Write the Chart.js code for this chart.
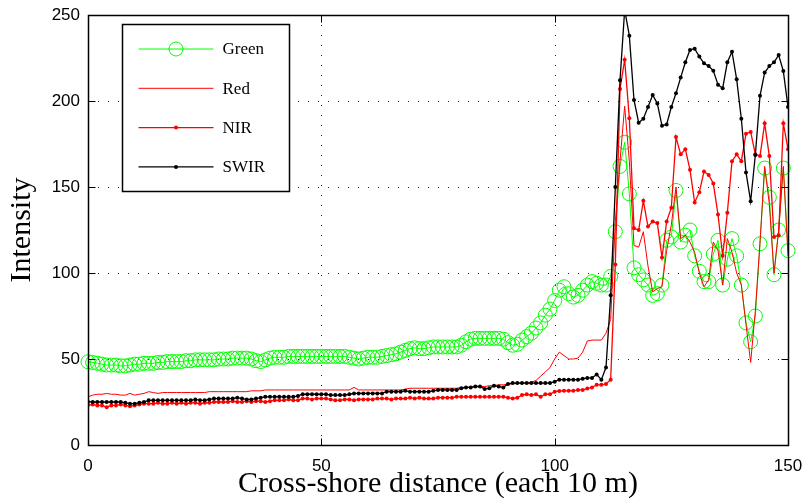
<!DOCTYPE html>
<html lang="en">
<head>
<meta charset="UTF-8">
<title>Intensity</title>
<style>
  html, body { margin: 0; padding: 0; background: #fff; }
</style>
</head>
<body>
<canvas id="myChart" width="806" height="499"></canvas>

<script src="https://cdn.jsdelivr.net/npm/chart.js"></script>
<script>
// values, one per 10 m step (0..150)
const green = [
  48.4, 48, 47.5, 47, 46.5, 46.5, 46.5, 46, 46, 46.5,
  47, 47, 47.5, 47.5, 47.5, 48, 48, 48.5, 48.5, 48.5,
  48.5, 49, 49, 49.5, 49.5, 49.5, 49.5, 49.5, 50, 50,
  50, 50.5, 50.5, 50.5, 50.5, 50, 49, 48.5, 49.5, 50.5,
  51, 51, 51, 51.5, 51.5, 51.5, 51.5, 51.5, 51.5, 51.5,
  51.5, 51.5, 51.5, 51.5, 51.5, 51.5, 51, 50.5, 50, 50.5,
  51, 51, 51, 51.5, 52, 52.5, 53, 54, 55, 56,
  56.5, 56, 56, 56.5, 57, 57, 57, 57, 57, 57,
  58, 60, 61.5, 62, 62, 62, 62, 62, 62, 61.5,
  59.5, 58, 58.5, 61, 63, 65, 68, 71, 75.5, 79,
  84, 90, 92, 88, 86, 87, 90, 93, 95, 94,
  93, 93, 98, 124, 162, 176, 146, 103, 99, 96,
  93, 87, 88, 93, 119, 121, 148, 118, 122, 125,
  110, 101, 95, 95, 111, 119, 93, 108, 120, 110,
  93, 71, 60, 75, 117, 161, 144, 99, 125, 161,
  113
];
const red = [
  28, 29, 29.5, 29.5, 30, 29.5, 29.5, 29, 29, 30,
  29, 29.5, 30, 31, 30.5, 30, 30.5, 30.5, 30.5, 30.5,
  30.5, 30.5, 30.5, 30.5, 30.5, 30.5, 31, 31, 31, 31,
  31, 31, 31, 31, 31, 31.5, 31.5, 31.5, 32, 32,
  32, 32, 32, 32, 32, 32, 32, 32, 32, 32,
  32, 32, 32, 32, 32, 32, 32, 33.5, 32, 32,
  32, 32, 32, 32, 32, 32, 32, 32, 32.5, 33,
  33, 33, 33, 33, 33, 33, 33, 33, 33, 33,
  33.5, 33.5, 33.5, 34, 34, 34, 34.5, 34.5, 35, 35,
  35.5, 35.5, 36, 36, 36, 36.5, 37.5, 40, 42.5, 45,
  50, 54, 52, 50, 50, 50.5, 54, 60.5, 61, 61,
  61, 65, 73, 130, 165, 197, 165, 116, 115, 124,
  104, 89, 91, 92, 113, 128, 150, 120, 122, 118,
  112, 100, 92, 96, 118, 113, 93, 120, 112, 100,
  93, 70, 48, 78, 118, 162, 140, 100, 125, 162,
  110
];
const nir = [
  23.3, 23.5, 23, 23, 22, 23, 23, 23.5, 23, 22.5,
  23, 23.5, 24, 24, 24, 24.5, 24, 24, 24.5, 24,
  24.5, 24, 24.5, 24.5, 24, 24.5, 24.5, 25, 25, 25,
  25, 25.5, 25, 25, 25.5, 25, 25.5, 25.5, 25, 25.5,
  26, 26, 26, 26.5, 26, 26, 27, 27, 26.5, 27,
  27, 27, 26.5, 26, 26, 26.5, 26.5, 26, 26.5, 26.5,
  26.5, 26.5, 27, 27, 27, 26.5, 27, 27, 27, 27.5,
  27, 27.5, 27, 27, 27, 27.5, 27.5, 27.5, 27.5, 28,
  28, 28, 28, 28, 28, 28, 28, 28, 28, 28,
  27.5, 27, 27.5, 29, 29.5, 29, 29.5, 28, 29.5, 29.5,
  31, 31.4, 31.5, 31.5, 31.5, 32, 32, 32.8, 33.5, 35,
  35, 35.5, 38, 105, 207, 224, 190, 126, 125, 142,
  127, 130, 129, 109, 130, 138, 179, 169, 172, 160,
  141, 147, 159, 157, 152, 134, 110, 135, 165, 169,
  165, 181, 182, 169, 168, 187, 168, 121, 122, 187,
  172
];
const swir = [
  25.2, 25, 25, 25, 25, 25, 25, 25, 24.5, 24,
  24, 24.5, 25, 26, 26, 26, 26, 26, 26, 26,
  26, 26, 26, 26.5, 26, 26, 26.5, 27, 27, 27,
  27, 27, 27.5, 27, 26.5, 26.5, 27, 27.5, 28, 28,
  28, 28, 28, 28, 28, 28.5, 29.5, 29.5, 29.5, 29.5,
  29.5, 29.5, 29, 29, 29, 29, 29.5, 30, 30, 30,
  30, 30, 30, 30, 31, 31, 31, 31, 31.5, 31,
  31, 31, 31, 31, 31.5, 32, 32, 32, 32, 32,
  33, 33.5, 33.5, 34, 34, 32.5, 33, 34.5, 34, 33.5,
  35.5, 36, 36, 36, 36, 36, 36, 36, 36, 36,
  36.8, 38, 38, 38, 38, 38, 38.5, 39, 39, 41,
  38, 45, 87, 150, 212, 253, 238, 200.6, 187.4, 189.7,
  196.5, 203.5, 198.5, 185.6, 186.4, 196.5, 204.5, 213.6, 222.5, 229.7,
  230.4, 225.8, 221.9, 220.3, 217.6, 209.5, 207.4, 222.5, 228.7, 212.6,
  189.7, 158.5, 141.7, 168.6, 203, 216.5, 220.3, 222.5, 226.7, 217.4,
  196.5
];
const seriesNames = ['Green', 'Red', 'NIR', 'SWIR'];
const xTicks = [0, 50, 100, 150];
const yTicks = [0, 50, 100, 150, 200, 250];

// x position of each sample is just its index (distance step)
const distance = green.map((v, i) => i);

const serif = 'Liberation Serif, DejaVu Serif, serif';
const sans = 'Liberation Sans, Arial, sans-serif';

// matlab-like frame: dotted grid, box, inward ticks and the boxed legend
const frame = {
    id: 'frame',
    beforeDatasetsDraw(chart) {
        const {ctx, chartArea: a, scales: {x, y}} = chart;
        ctx.save();
        ctx.strokeStyle = '#222';
        ctx.lineWidth = 1;
        ctx.setLineDash([1, 9]);
        ctx.beginPath();
        xTicks.forEach(v => {
            const px = Math.round(x.getPixelForValue(v)) + 0.5;
            ctx.moveTo(px, a.top);
            ctx.lineTo(px, a.bottom);
        });
        yTicks.forEach(v => {
            const py = Math.round(y.getPixelForValue(v)) + 0.5;
            ctx.moveTo(a.left, py);
            ctx.lineTo(a.right, py);
        });
        ctx.stroke();
        ctx.restore();
    },
    afterDatasetsDraw(chart) {
        const {ctx, chartArea: a, scales: {x, y}} = chart;
        const L = Math.round(a.left) + 0.5, R = Math.round(a.right) + 0.5;
        const T = Math.round(a.top) + 0.5, B = Math.round(a.bottom) + 0.5;
        ctx.save();
        ctx.strokeStyle = '#000';
        ctx.lineWidth = 1.5;
        ctx.strokeRect(L, T, R - L, B - T);

        // ticks pointing inward
        const tl = 7;
        ctx.lineWidth = 1;
        ctx.beginPath();
        xTicks.forEach(v => {
            const px = Math.round(x.getPixelForValue(v)) + 0.5;
            ctx.moveTo(px, B); ctx.lineTo(px, B - tl);
            ctx.moveTo(px, T); ctx.lineTo(px, T + tl);
        });
        yTicks.forEach(v => {
            const py = Math.round(y.getPixelForValue(v)) + 0.5;
            ctx.moveTo(L, py); ctx.lineTo(L + tl, py);
            ctx.moveTo(R, py); ctx.lineTo(R - tl, py);
        });
        ctx.stroke();

        // legend
        const bx = L + 34, by = T + 9, bw = 167, bh = 167;
        ctx.fillStyle = '#fff';
        ctx.fillRect(bx, by, bw, bh);
        ctx.lineWidth = 1.5;
        ctx.strokeRect(bx, by, bw, bh);
        ctx.font = '17px ' + serif;
        ctx.textBaseline = 'middle';
        chart.data.datasets.forEach((ds, i) => {
            const ry = by + 24.5 + i * 39.3;
            const x0 = bx + 16, x1 = bx + 91, xm = (x0 + x1) / 2;
            ctx.strokeStyle = ds.borderColor;
            ctx.lineWidth = ds.borderWidth;
            ctx.beginPath();
            ctx.moveTo(x0, ry); ctx.lineTo(x1, ry);
            ctx.stroke();
            if (ds.pointRadius > 0) {
                ctx.beginPath();
                ctx.arc(xm, ry, ds.pointRadius, 0, Math.PI * 2);
                if (ds.pointBackgroundColor !== 'transparent') {
                    ctx.fillStyle = ds.pointBackgroundColor;
                    ctx.fill();
                } else {
                    ctx.lineWidth = ds.pointBorderWidth;
                    ctx.strokeStyle = ds.pointBorderColor;
                    ctx.stroke();
                }
            }
            ctx.fillStyle = '#000';
            ctx.fillText(ds.label, bx + 100, ry + 1);
        });
        ctx.restore();
    }
};

const ctx = document.getElementById('myChart');

let datasets = [
    {
        label: seriesNames[0], data: green,
        borderColor: '#00ff00', borderWidth: 1,
        pointRadius: 7, pointBorderWidth: 1,
        pointBorderColor: '#00ff00', pointBackgroundColor: 'transparent',
        clip: 8, order: 4
    },
    {
        label: seriesNames[1], data: red,
        borderColor: '#ff0000', borderWidth: 1,
        pointRadius: 0, order: 3
    },
    {
        label: seriesNames[2], data: nir,
        borderColor: '#ff0000', borderWidth: 1.3,
        pointRadius: 2, pointBorderWidth: 0,
        pointBackgroundColor: '#ff0000', order: 2
    },
    {
        label: seriesNames[3], data: swir,
        borderColor: '#000000', borderWidth: 1.3,
        pointRadius: 2, pointBorderWidth: 0,
        pointBackgroundColor: '#000000', clip: 0, order: 1
    }
];

let options = {
    responsive: false,
    animation: false,
    layout: { padding: { top: 15, right: 18, left: 0, bottom: 0 } },
    plugins: {
        legend: { display: false },
        tooltip: { enabled: false }
    },
    scales: {
        x: {
            type: 'linear', min: 0, max: 150,
            afterBuildTicks: s => { s.ticks = xTicks.map(v => ({ value: v })); },
            afterFit: s => { s.height = 54; s.paddingLeft = 0; s.paddingRight = 0; },
            grid: { display: false, drawTicks: false },
            border: { display: false },
            ticks: { color: '#000', padding: 11, maxRotation: 0, font: { family: sans, size: 17 } },
            title: {
                display: true, text: 'Cross-shore distance (each 10 m)', color: '#000',
                font: { family: serif, size: 30, lineHeight: 1 }, padding: { top: 0, bottom: 0 }
            }
        },
        y: {
            min: 0, max: 250,
            afterBuildTicks: s => { s.ticks = yTicks.map(v => ({ value: v })); },
            afterFit: s => { s.width = 88; s.paddingTop = 0; s.paddingBottom = 0; },
            grid: { display: false, drawTicks: false },
            border: { display: false },
            ticks: { color: '#000', padding: 8, font: { family: sans, size: 17 } },
            title: {
                display: true, text: 'Intensity', color: '#000',
                font: { family: serif, size: 30, lineHeight: 1 }, padding: { top: 7, bottom: 0 }
            }
        }
    }
};

let chart = new Chart(ctx, {
    type: 'line',
    data: { labels: distance, datasets: datasets },
    options: options,
    plugins: [frame]
});
</script>
</body>
</html>
